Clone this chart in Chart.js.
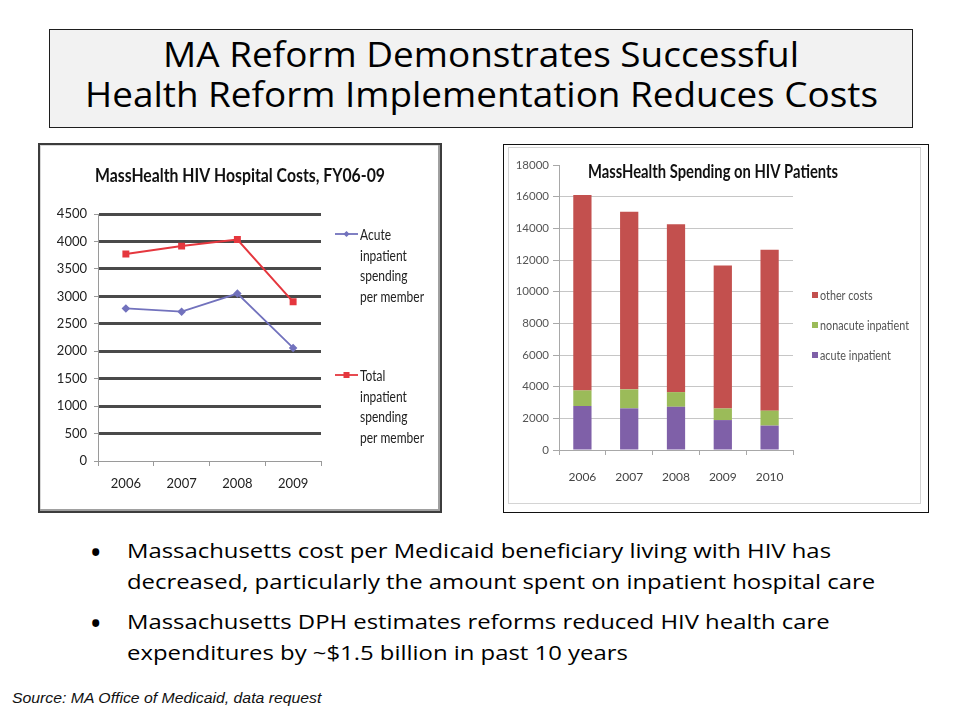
<!DOCTYPE html>
<html><head><meta charset="utf-8">
<script src="https://cdn.jsdelivr.net/npm/chart.js@4.4.1/dist/chart.umd.min.js"></script>
<style>
html,body{margin:0;padding:0;}
body{width:960px;height:720px;position:relative;overflow:hidden;background:#fff;}
.t{position:absolute;white-space:nowrap;margin:0;padding:0;color:#000;transform-origin:0 0;}
#titlebox{position:absolute;left:49px;top:29px;width:864px;height:99px;box-sizing:border-box;background:#f2f2f2;border:1px solid #1e1e1e;}
#frame1{position:absolute;left:38px;top:143px;width:404px;height:370px;box-sizing:border-box;border:2px solid #3c3c3c;box-shadow:inset -2px -2px 0 #a0a0a0, inset 1px 1px 0 #d8d8d8;background:#fff;}
#frame2{position:absolute;left:503px;top:144px;width:426px;height:369px;box-sizing:border-box;border:1px solid #111;background:#fff;}
#frame2 .inner{position:absolute;left:4px;top:2px;right:7px;bottom:8px;border:1px solid #d4d4d4;}
canvas{position:absolute;}
#c1{left:41px;top:146px;}
#c2{left:506px;top:147px;}
</style></head><body>
<div id="titlebox"></div>
<div class="t" data-font="normal 400 34.5px 'Open Sans'" data-cx="481" data-base="68" data-w="636">MA Reform Demonstrates Successful</div>
<div class="t" data-font="normal 400 34.5px 'Open Sans'" data-cx="481" data-base="108" data-w="793">Health Reform Implementation Reduces Costs</div>

<div id="frame1"></div>
<div id="frame2"><div class="inner"></div></div>
<canvas id="c1" width="397" height="363"></canvas>
<canvas id="c2" width="417" height="362"></canvas>

<div class="t" data-font="normal 700 25px 'Open Sans'" data-x="91" data-base="561">•</div>
<div class="t" id="b1" data-font="normal 400 20px 'Open Sans'" data-x="127" data-base="558" data-w="704">Massachusetts cost per Medicaid beneficiary living with HIV has</div>
<div class="t" data-font="normal 400 20px 'Open Sans'" data-x="127" data-base="589" data-sc="b1">decreased, particularly the amount spent on inpatient hospital care</div>
<div class="t" data-font="normal 700 25px 'Open Sans'" data-x="91" data-base="632">•</div>
<div class="t" data-font="normal 400 20px 'Open Sans'" data-x="127" data-base="629" data-sc="b1">Massachusetts DPH estimates reforms reduced HIV health care</div>
<div class="t" data-font="normal 400 20px 'Open Sans'" data-x="127" data-base="660" data-sc="b1">expenditures by ~$1.5 billion in past 10 years</div>
<div class="t" data-font="italic 400 15.5px 'Liberation Sans'" data-x="12" data-base="703" data-w="310" style="color:#111">Source: MA Office of Medicaid, data request</div>

<script>
// ---- data: left chart (MassHealth HIV Hospital Costs, FY06-09) ----
const lineYears = ['2006', '2007', '2008', '2009'];
const acuteSpendingPerMember = [2780, 2720, 3050, 2060];
const totalSpendingPerMember = [3770, 3915, 4035, 2900];
const lineLabels = [['Acute', 'inpatient', 'spending', 'per member'], ['Total', 'inpatient', 'spending', 'per member']];
const lineYMax = 4500, lineYStep = 500;

// ---- data: right chart (MassHealth Spending on HIV Patients) ----
const barYears = ['2006', '2007', '2008', '2009', '2010'];
const acuteInpatient = [2780, 2630, 2730, 1890, 1540];
const nonacuteInpatient = [985, 1200, 925, 735, 945];
const otherCosts = [12340, 11210, 10600, 9020, 10160];
const barLabels = ['acute inpatient', 'nonacute inpatient', 'other costs'];
const barYMax = 18000, barYStep = 2000;

// ---- text layout helper ----
const mc = document.createElement('canvas').getContext('2d');
const scStore = {};
function layoutText(el) {
  const font = el.dataset.font;
  el.style.font = font;
  const fs = parseFloat(font.match(/([\d.]+)px/)[1]);
  el.style.lineHeight = fs + 'px';
  mc.font = font;
  const txt = el.textContent;
  const m = mc.measureText(txt);
  const A = m.fontBoundingBoxAscent, D = m.fontBoundingBoxDescent;
  let w = m.width, sc = 1;
  if (el.dataset.w) {
    sc = parseFloat(el.dataset.w) / w;
    if (el.id) scStore[el.id] = sc;
  } else if (el.dataset.sc) {
    sc = scStore[el.dataset.sc] || 1;
  }
  el.style.transform = 'scaleX(' + sc + ')';
  w *= sc;
  el.style.top = (parseFloat(el.dataset.base) - ((fs - (A + D)) / 2 + A)) + 'px';
  el.style.left = (el.dataset.cx ? parseFloat(el.dataset.cx) - w / 2 : parseFloat(el.dataset.x)) + 'px';
}
document.querySelectorAll('.t').forEach(layoutText);

function fitText(ctx, text, x, y, font, targetW, align) {
  ctx.save();
  ctx.font = font;
  const w = ctx.measureText(text).width;
  const s = targetW ? targetW / w : 1;
  ctx.translate(x, y);
  ctx.scale(s, 1);
  ctx.textAlign = align || 'left';
  ctx.textBaseline = 'alphabetic';
  ctx.fillText(text, 0, 0);
  ctx.restore();
}
const plain = v => String(v);

Chart.defaults.font.family = 'Lato';

// ---- left chart ----
const leftDecor = {
  id: 'leftDecor',
  afterDraw(chart) {
    const ctx = chart.ctx;
    ctx.fillStyle = '#111';
    fitText(ctx, 'MassHealth HIV Hospital Costs, FY06-09', 199, 36, 'bold 18.5px Lato', 290, 'center');
    ctx.save();
    ctx.font = '14.5px Lato';
    const sc = 64 / ctx.measureText('per member').width;
    ctx.restore();
    const starts = [{lineY: 88, base: 94}, {lineY: 229, base: 235}];
    chart.data.datasets.forEach((ds, i) => {
      const s = starts[i];
      ctx.save();
      ctx.strokeStyle = ds.borderColor; ctx.lineWidth = 1.8;
      ctx.beginPath(); ctx.moveTo(294, s.lineY); ctx.lineTo(317, s.lineY); ctx.stroke();
      ctx.fillStyle = ds.borderColor;
      ctx.translate(305.5, s.lineY);
      if (ds.pointStyle === 'rectRot') { ctx.rotate(Math.PI / 4); ctx.fillRect(-2.2, -2.2, 4.4, 4.4); }
      else ctx.fillRect(-3, -3, 6, 6);
      ctx.restore();
      ctx.fillStyle = '#222';
      ds.label.forEach((line, k) => {
        ctx.save(); ctx.font = '14.5px Lato'; ctx.translate(319, s.base + k * 20.6); ctx.scale(sc, 1);
        ctx.textBaseline = 'alphabetic'; ctx.fillText(line, 0, 0); ctx.restore();
      });
    });
  }
};

new Chart(document.getElementById('c1'), {
  type: 'line',
  data: {
    labels: lineYears,
    datasets: [
      { label: lineLabels[0], data: acuteSpendingPerMember, borderColor: '#7272bd', backgroundColor: '#7272bd',
        borderWidth: 1.8, pointStyle: 'rectRot', pointRadius: 3, tension: 0 },
      { label: lineLabels[1], data: totalSpendingPerMember, borderColor: '#e5373e', backgroundColor: '#e5373e',
        borderWidth: 2, pointStyle: 'rect', pointRadius: 3.5, tension: 0 }
    ]
  },
  options: {
    responsive: false, animation: false, devicePixelRatio: 1,
    layout: { padding: { top: 68, right: 117, left: 0, bottom: 0 } },
    plugins: { legend: { display: false }, tooltip: { enabled: false }, title: { display: false } },
    scales: {
      x: {
        offset: true,
        grid: { offset: true, drawOnChartArea: false, drawTicks: true, tickLength: 5, color: '#9a9a9a' },
        border: { color: '#9a9a9a', width: 1 },
        ticks: { font: { size: 13 }, color: '#222', padding: 10 },
        afterFit(s) { s.height = 48; }
      },
      y: {
        min: 0, max: lineYMax,
        ticks: { stepSize: lineYStep, font: { size: 13 }, color: '#222', padding: 7, callback: plain },
        grid: {
          color: c => (c.tick && c.tick.value === 0) ? 'rgba(0,0,0,0)' : '#4a4a4a',
          lineWidth: c => (c.tick && c.tick.value === 0) ? 1 : 3,
          tickColor: '#9a9a9a', tickWidth: 1, tickLength: 4
        },
        border: { color: '#9a9a9a', width: 1 },
        afterFit(s) { s.width = 57; }
      }
    }
  },
  plugins: [leftDecor]
});

// ---- right chart ----
const rightDecor = {
  id: 'rightDecor',
  afterDraw(chart) {
    const ctx = chart.ctx;
    ctx.fillStyle = '#111';
    fitText(ctx, 'MassHealth Spending on HIV Patients', 207, 31, 'bold 19px Lato', 250, 'center');
    ctx.save(); ctx.font = '12.5px Lato';
    const sc = 89 / ctx.measureText('nonacute inpatient').width;
    ctx.restore();
    const order = [2, 1, 0];
    order.forEach((di, k) => {
      const ds = chart.data.datasets[di];
      const cy = 148 + k * 30;
      ctx.fillStyle = ds.backgroundColor;
      ctx.fillRect(306, cy - 3, 6, 6);
      ctx.fillStyle = '#555';
      ctx.save(); ctx.font = '12.5px Lato'; ctx.translate(314, cy + 4.5); ctx.scale(sc, 1);
      ctx.fillText(ds.label, 0, 0); ctx.restore();
    });
  }
};

new Chart(document.getElementById('c2'), {
  type: 'bar',
  data: {
    labels: barYears,
    datasets: [
      { label: barLabels[0], data: acuteInpatient, backgroundColor: '#7f60a8' },
      { label: barLabels[1], data: nonacuteInpatient, backgroundColor: '#9bbb59' },
      { label: barLabels[2], data: otherCosts, backgroundColor: '#c3504e' }
    ]
  },
  options: {
    responsive: false, animation: false, devicePixelRatio: 1,
    layout: { padding: { top: 18, right: 130, left: 0, bottom: 0 } },
    datasets: { bar: { barPercentage: 0.39, categoryPercentage: 1 } },
    plugins: { legend: { display: false }, tooltip: { enabled: false }, title: { display: false } },
    scales: {
      x: {
        stacked: true,
        grid: { offset: true, drawOnChartArea: false, drawTicks: true, tickLength: 5, color: '#a8a8a8' },
        border: { color: '#a8a8a8', width: 1 },
        ticks: { font: { size: 12 }, color: '#444', padding: 15 },
        afterFit(s) { s.height = 59; }
      },
      y: {
        stacked: true, min: 0, max: barYMax,
        ticks: { stepSize: barYStep, font: { size: 11.5 }, color: '#555', padding: 4, callback: plain },
        grid: {
          color: c => (c.tick && (c.tick.value === 0 || c.tick.value === barYMax)) ? 'rgba(0,0,0,0)' : '#c6c6c6',
          tickColor: '#a8a8a8', tickLength: 6, lineWidth: 1
        },
        border: { color: '#a8a8a8', width: 1 },
        afterFit(s) { s.width = 53; }
      }
    }
  },
  plugins: [rightDecor]
});
</script>
</body></html>
